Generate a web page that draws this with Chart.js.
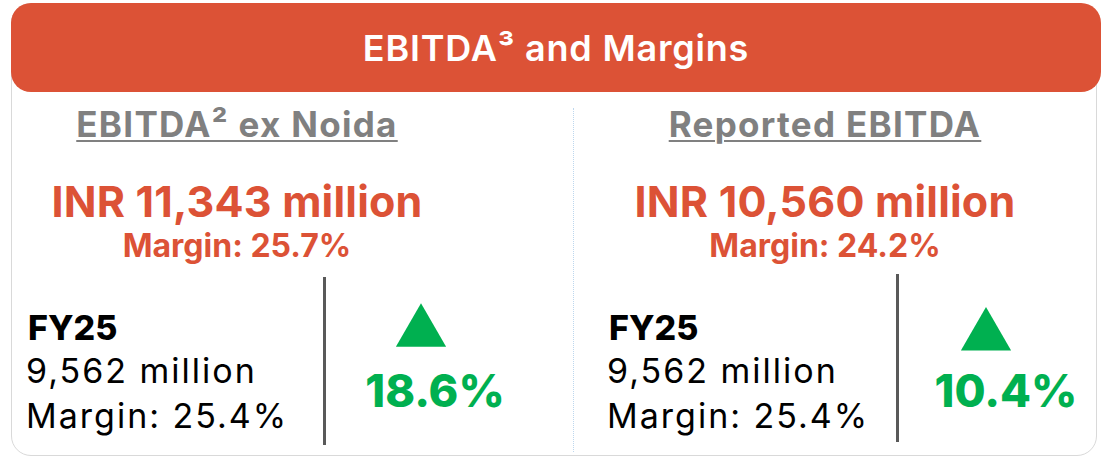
<!DOCTYPE html>
<html>
<head>
<meta charset="utf-8">
<script src="https://cdn.jsdelivr.net/npm/chart.js@4.4.1/dist/chart.umd.min.js"></script>
<style>
  body { margin: 0; width: 1102px; height: 458px; background: #fff; position: relative; overflow: hidden;
         font-family: Inter, "Open Sans", sans-serif; }
  .card { position: absolute; left: 11px; top: 3px; width: 1086px; height: 453px; box-sizing: border-box;
          border: 1.5px solid #d9d9d9; border-radius: 20px; }
  .header { position: absolute; left: 11px; top: 3px; width: 1090px; height: 89px; background: #dc5236; border-radius: 20px; }
  .divider { position: absolute; left: 573px; top: 108px; height: 344px; border-left: 1.5px dotted #bdd7ee; }
  .rule { position: absolute; width: 3px; height: 168px; background: #595959; }
  .txt { position: absolute; white-space: nowrap; line-height: 1; }
  .center { width: 800px; text-align: center; }
  .title { font-size: 36px; font-weight: 600; color: #fff; letter-spacing: 0.8px; }
  .sub { font-size: 35px; font-weight: 700; color: #808080; letter-spacing: 1.3px;
         text-decoration: underline; text-decoration-thickness: 2px; text-underline-offset: 3px; }
  .big { font-size: 43px; font-weight: 700; color: #dc5236; letter-spacing: 0.2px; }
  .marg { font-size: 32px; font-weight: 700; color: #dc5236; }
  .fy { font-size: 34px; font-weight: 800; color: #000; }
  .prior { font-size: 34px; font-weight: 400; color: #000; letter-spacing: 2px; }
  .pct { font-size: 45px; font-weight: 800; color: #00b050; }
  .arrow { position: absolute; width: 80px; height: 80px; }
</style>
</head>
<body>
<div class="card"></div>
<div class="header"></div>
<div class="divider"></div>
<script>
// data
const chartTitle = "EBITDA³ and Margins";
const panelTitles = ["EBITDA² ex Noida", "Reported EBITDA"];
const currentValue = [11343, 10560];   // INR million
const currentMargin = [25.7, 24.2];
const priorLabel = "FY25";
const priorValue = [9562, 9562];
const priorMargin = [25.4, 25.4];
const growth = [18.6, 10.4];           // % change vs FY25

// where each panel puts things (px)
const layout = [
    { center: 237, fyLeft: 28, rule: 324, ruleTop: 277, arrow: 421, pct: 435 },
    { center: 825, fyLeft: 609, rule: 897, ruleTop: 274, arrow: 986, pct: 1006 }
];

const fmt = v => v.toLocaleString("en-US");

function addText(text, cls, x, top, centered) {
    const el = document.createElement("div");
    el.className = "txt " + cls + (centered ? " center" : "");
    el.textContent = text;
    el.style.left = (centered ? x - 400 : x) + "px";
    el.style.top = top + "px";
    document.body.appendChild(el);
    return el;
}

addText(chartTitle, "title", 556, 30, true);

panelTitles.forEach((name, i) => {
    const L = layout[i];
    addText(name, "sub", L.center, 107, true);
    addText("INR " + fmt(currentValue[i]) + " million", "big", L.center, 180, true);
    addText("Margin: " + currentMargin[i].toFixed(1) + "%", "marg", L.center, 230, true);

    addText(priorLabel, "fy", L.fyLeft, 311, false);
    addText(fmt(priorValue[i]) + " million", "prior", L.fyLeft - 2, 354, false);
    addText("Margin: " + priorMargin[i].toFixed(1) + "%", "prior", L.fyLeft - 2, 399, false);

    const rule = document.createElement("div");
    rule.className = "rule";
    rule.style.left = (L.rule - 1) + "px";
    rule.style.top = L.ruleTop + "px";
    document.body.appendChild(rule);

    addText(growth[i].toFixed(1) + "%", "pct", L.pct, 368, true);

    // up arrow = a single triangle point, centred by the scales
    const box = document.createElement("div");
    box.className = "arrow";
    box.style.left = (L.arrow - 40) + "px";
    box.style.top = (337 - 40) + "px";
    const cv = document.createElement("canvas");
    cv.width = 80;
    cv.height = 80;
    box.appendChild(cv);
    document.body.appendChild(box);

    new Chart(cv.getContext("2d"), {
        type: "scatter",
        data: {
            datasets: [{
                label: panelTitles[i],
                data: [{ x: i, y: growth[i] }],
                pointStyle: "triangle",
                pointRadius: 29,
                pointHoverRadius: 29,
                backgroundColor: "#00b050",
                borderColor: "#00b050",
                borderWidth: 0
            }]
        },
        options: {
            responsive: false,
            animation: false,
            events: [],
            layout: { padding: 0 },
            plugins: { legend: { display: false }, tooltip: { enabled: false } },
            scales: { x: { display: false }, y: { display: false } }
        }
    });
});
</script>
</body>
</html>
